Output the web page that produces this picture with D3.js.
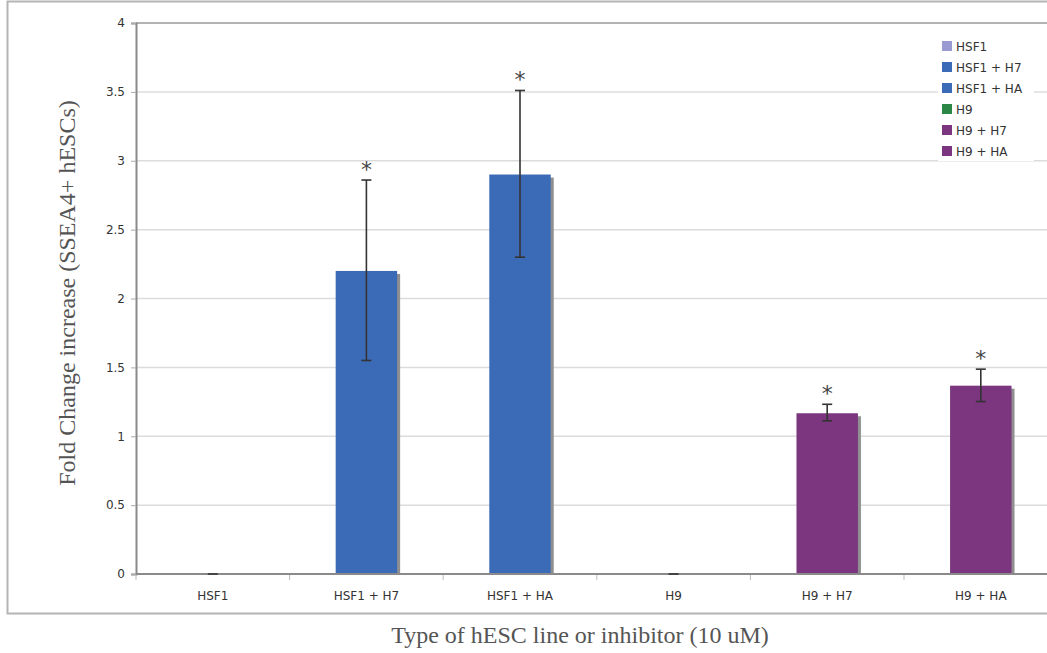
<!DOCTYPE html>
<html>
<head>
<meta charset="utf-8">
<script src="https://cdn.jsdelivr.net/npm/d3@7"></script>
<style>
  body { margin: 0; background: #fff; }
  svg { display: block; }
</style>
</head>
<body>
<div id="chart"></div>
<script>
const categories = ["HSF1", "HSF1 + H7", "HSF1 + HA", "H9", "H9 + H7", "H9 + HA"];
const values = [0, 2.2, 2.9, 0, 1.167, 1.367];
const errUp = [0, 0.66, 0.61, 0, 0.065, 0.12];
const errDown = [0, 0.65, 0.60, 0, 0.055, 0.115];
const significant = [false, true, true, false, true, true];
const colors = ["#9a9ad2", "#3b6bb6", "#3b6bb6", "#2b8745", "#7c3680", "#7c3680"];
const yTicks = [0, 0.5, 1, 1.5, 2, 2.5, 3, 3.5, 4];

const w = 1047;
const h = 653;
const padLeft = 136, padTop = 23, baseY = 574;

const data = categories.map((c, i) => ({
  cat: c, value: values[i], up: errUp[i], down: errDown[i], star: significant[i], color: colors[i]
}));

const svg = d3.select("#chart").append("svg")
  .attr("width", w)
  .attr("height", h);

// outer frame
svg.append("rect")
  .attr("x", 7.5).attr("y", 1.5)
  .attr("width", w + 10).attr("height", 612)
  .attr("fill", "none")
  .attr("stroke", "#b4b4b4")
  .attr("stroke-width", 2);

const xScale = d3.scaleBand()
  .domain(categories)
  .range([padLeft, padLeft + 6 * 153.6]);

const yScale = d3.scaleLinear()
  .domain([0, 4])
  .range([baseY, padTop]);

// gridlines
svg.append("g")
  .selectAll("line")
  .data(yTicks.filter(d => d > 0 && d < 4))
  .enter().append("line")
  .attr("x1", padLeft).attr("x2", w)
  .attr("y1", d => yScale(d)).attr("y2", d => yScale(d))
  .attr("stroke", "#dcdcdc")
  .attr("stroke-width", 1.5);

// top border of plot
svg.append("line")
  .attr("x1", padLeft).attr("x2", w)
  .attr("y1", yScale(4)).attr("y2", yScale(4))
  .attr("stroke", "#999").attr("stroke-width", 1.5);

const barW = xScale.bandwidth() * 0.4;

// shadows
svg.append("g").selectAll("rect")
  .data(data.filter(d => d.value > 0))
  .enter().append("rect")
  .attr("x", d => xScale(d.cat) + (xScale.bandwidth() - barW) / 2 + 3)
  .attr("y", d => yScale(d.value) + 3)
  .attr("width", barW)
  .attr("height", d => yScale(0) - yScale(d.value) - 3)
  .attr("fill", "#8f8f8f");

// bars
svg.append("g").selectAll("rect")
  .data(data)
  .enter().append("rect")
  .attr("x", d => xScale(d.cat) + (xScale.bandwidth() - barW) / 2)
  .attr("y", d => yScale(d.value))
  .attr("width", barW)
  .attr("height", d => yScale(0) - yScale(d.value))
  .attr("fill", d => d.color);

// axes
const yAxis = d3.axisLeft(yScale).tickValues(yTicks).tickSize(5).tickPadding(6)
  .tickFormat(d => String(d));
const yG = svg.append("g")
  .attr("transform", "translate(" + padLeft + ",0)")
  .call(yAxis);
yG.select(".domain").attr("stroke", "#8a8a8a").attr("stroke-width", 2);
yG.selectAll(".tick line").attr("stroke", "#aaa");
yG.selectAll("text").attr("fill", "#333").style("font-family", "DejaVu Sans, Verdana, sans-serif").style("font-size", "12px");

const xAxis = d3.axisBottom(xScale).tickSize(0).tickPadding(17);
const xG = svg.append("g")
  .attr("transform", "translate(0," + baseY + ")")
  .call(xAxis);
xG.select(".domain").attr("d", "M" + padLeft + ",0H" + w).attr("stroke", "#8a8a8a").attr("stroke-width", 2);
xG.selectAll("text").attr("fill", "#333").style("font-family", "DejaVu Sans, Verdana, sans-serif").style("font-size", "12px");

// category separators on x axis
xG.append("g").selectAll("line")
  .data(categories)
  .enter().append("line")
  .attr("x1", d => xScale(d)).attr("x2", d => xScale(d))
  .attr("y1", 1).attr("y2", 6)
  .attr("stroke", "#bbb");

// error bars
const eb = svg.append("g").attr("stroke", "#333").attr("stroke-width", 1.6);
const cx = d => xScale(d.cat) + xScale.bandwidth() / 2;
eb.selectAll(".stem")
  .data(data.filter(d => d.up > 0))
  .enter().append("line")
  .attr("x1", cx).attr("x2", cx)
  .attr("y1", d => yScale(d.value + d.up))
  .attr("y2", d => yScale(d.value - d.down));
eb.selectAll(".capTop")
  .data(data)
  .enter().append("line")
  .attr("x1", d => cx(d) - 5).attr("x2", d => cx(d) + 5)
  .attr("y1", d => yScale(d.value + d.up))
  .attr("y2", d => yScale(d.value + d.up));
eb.selectAll(".capBot")
  .data(data.filter(d => d.up > 0))
  .enter().append("line")
  .attr("x1", d => cx(d) - 5).attr("x2", d => cx(d) + 5)
  .attr("y1", d => yScale(d.value - d.down))
  .attr("y2", d => yScale(d.value - d.down));

// significance asterisks
svg.append("g").selectAll("text")
  .data(data.filter(d => d.star))
  .enter().append("text")
  .attr("x", cx)
  .attr("y", d => yScale(d.value + d.up) - 3)
  .attr("text-anchor", "middle")
  .attr("fill", "#444")
  .style("font-family", "DejaVu Sans, sans-serif")
  .style("font-size", "22px")
  .text("*");

// legend
const legend = svg.append("g").attr("transform", "translate(938,35)");
legend.append("rect")
  .attr("x", 0).attr("y", 0)
  .attr("width", 96).attr("height", 126)
  .attr("fill", "#fff");
const items = legend.selectAll(".item")
  .data(data)
  .enter().append("g")
  .attr("transform", (d, i) => "translate(4," + (6 + i * 21) + ")");
items.append("rect")
  .attr("width", 10).attr("height", 10)
  .attr("fill", d => d.color);
items.append("text")
  .attr("x", 14).attr("y", 9.5)
  .attr("fill", "#333")
  .style("font-family", "DejaVu Sans, Verdana, sans-serif")
  .style("font-size", "12px")
  .text(d => d.cat);

// axis titles
svg.append("text")
  .attr("transform", "translate(75,293) rotate(-90)")
  .attr("text-anchor", "middle")
  .attr("fill", "#555")
  .style("font-family", "Liberation Serif, Times New Roman, serif")
  .style("font-size", "24px")
  .text("Fold Change increase (SSEA4+ hESCs)");

svg.append("text")
  .attr("x", 580).attr("y", 643)
  .attr("text-anchor", "middle")
  .attr("fill", "#555")
  .style("font-family", "Liberation Serif, Times New Roman, serif")
  .style("font-size", "24px")
  .text("Type of hESC line or inhibitor (10 uM)");
</script>
</body>
</html>
